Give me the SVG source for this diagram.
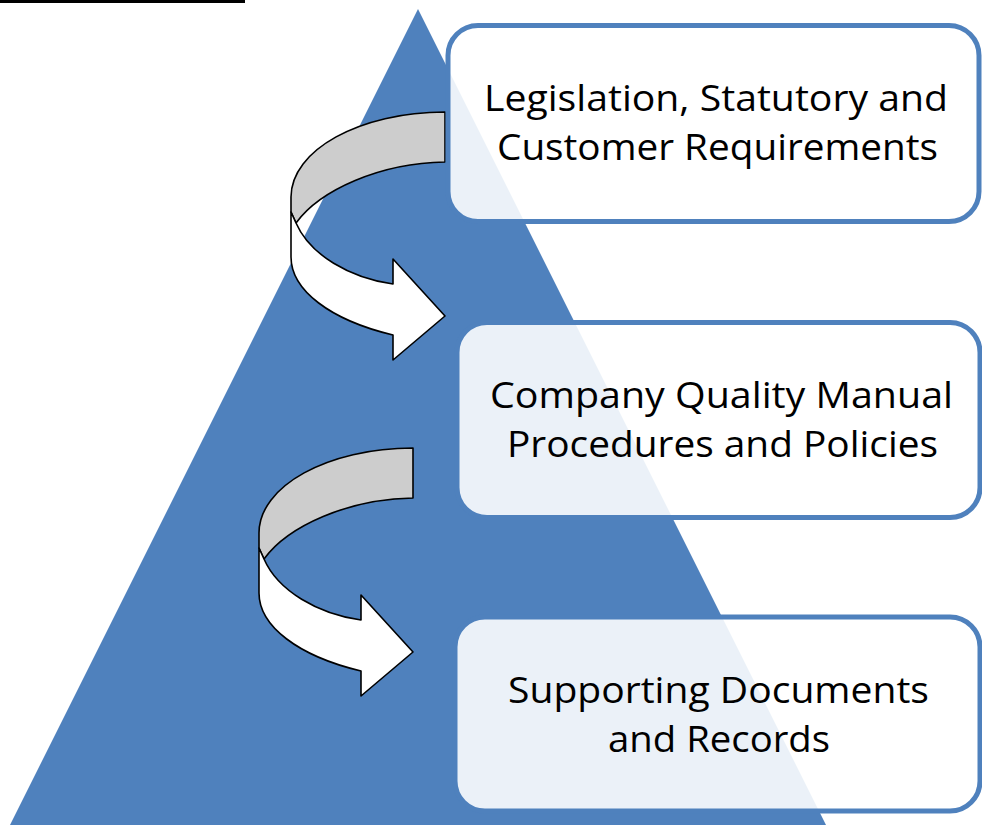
<svg xmlns="http://www.w3.org/2000/svg" width="982" height="825" viewBox="0 0 982 825">
<style>
.box{fill:#ffffff;fill-opacity:0.89;stroke:#4f81bd;stroke-width:5}
.lbl{font-family:"Open Sans","Liberation Sans",sans-serif;font-size:37px;fill:#000000;text-anchor:middle}
.back{fill:#cdcdcd;stroke:#000000;stroke-width:1.6;stroke-linejoin:round}
.front{fill:#ffffff;stroke:#000000;stroke-width:1.6;stroke-linejoin:round}
</style>
<defs>
<g id="curl">
<path class="back" d="M445,112 C360,112 291,150 291,197 L291,212 L296,223 C320,190 380,163 445,162 Z"/>
<path class="front" d="M291,212 L291,257 C291,290 330,320 393,335 L393,360 L445,316 L393,259 L393,284 C350,278 310,255 296,223 Z"/>
</g>
</defs>
<rect x="0" y="0" width="245" height="3" fill="#000000"/>
<polygon id="pyramid" points="418,9 10,825 826,825" fill="#4f81bd"/>
<g id="connectors">
<use href="#curl"/>
<use href="#curl" transform="translate(-32,336)"/>
</g>
<g id="node1">
<rect class="box" x="448" y="25.5" width="531" height="196" rx="30"/>
<text class="lbl" x="716" y="111" textLength="464" lengthAdjust="spacingAndGlyphs">Legislation, Statutory and</text>
<text class="lbl" x="717.5" y="160" textLength="441" lengthAdjust="spacingAndGlyphs">Customer Requirements</text>
</g>
<g id="node2">
<rect class="box" x="457" y="322.5" width="523" height="195" rx="30"/>
<text class="lbl" x="721.5" y="408" textLength="463" lengthAdjust="spacingAndGlyphs">Company Quality Manual</text>
<text class="lbl" x="722.5" y="457" textLength="431" lengthAdjust="spacingAndGlyphs">Procedures and Policies</text>
</g>
<g id="node3">
<rect class="box" x="455" y="617" width="525" height="194" rx="30"/>
<text class="lbl" x="718.5" y="703" textLength="421" lengthAdjust="spacingAndGlyphs">Supporting Documents</text>
<text class="lbl" x="719" y="752" textLength="222" lengthAdjust="spacingAndGlyphs">and Records</text>
</g>
</svg>
